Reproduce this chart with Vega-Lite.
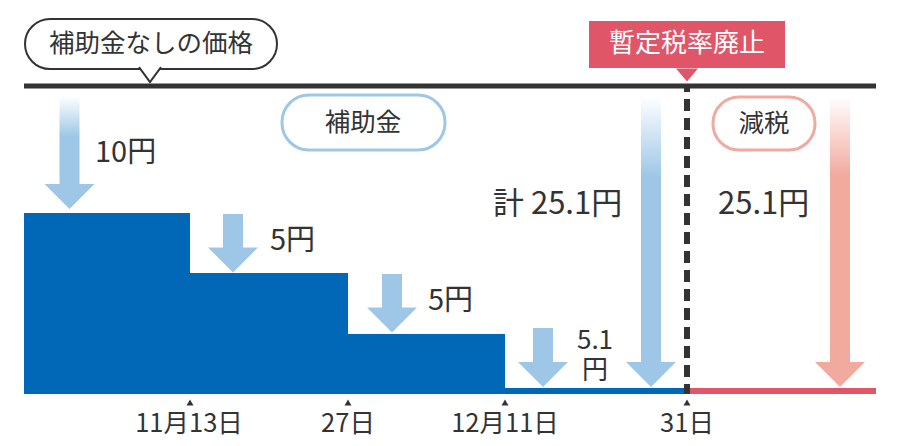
{
  "$schema": "https://vega.github.io/schema/vega-lite/v6.json",
  "width": 900,
  "height": 446,
  "autosize": {"type": "fit", "contains": "padding"},
  "padding": 0,
  "background": "#ffffff",
  "config": {"view": {"stroke": null}, "text": {"font": "Noto Sans CJK JP"}},
  "encoding": {
    "x": {"field": "x", "type": "quantitative", "scale": {"domain": [0, 900], "nice": false, "zero": false}, "axis": null},
    "y": {"field": "y", "type": "quantitative", "scale": {"domain": [0, 446], "nice": false, "zero": false, "reverse": true}, "axis": null}
  },
  "layer": [
    {
      "data": {"values": [
        {"period": "〜11月12日", "x": 24, "x2": 190, "y": 213, "y2": 394},
        {"period": "11月13日〜", "x": 190, "x2": 348, "y": 273, "y2": 394},
        {"period": "27日〜", "x": 348, "x2": 505, "y": 334, "y2": 394},
        {"period": "12月11日〜", "x": 505, "x2": 687, "y": 388, "y2": 394}
      ]},
      "mark": {"type": "rect", "color": "#0068b7"},
      "encoding": {"x2": {"field": "x2"}, "y2": {"field": "y2"}}
    },
    {
      "data": {"values": [{"period": "31日〜", "x": 687, "x2": 876, "y": 388, "y2": 394}]},
      "mark": {"type": "rect", "color": "#e05668"},
      "encoding": {"x2": {"field": "x2"}, "y2": {"field": "y2"}}
    },
    {
      "data": {"values": [
        {"step": "5円", "x": 223, "x2": 243, "y": 214, "y2": 250},
        {"step": "5円", "x": 382, "x2": 402, "y": 274, "y2": 310},
        {"step": "5.1円", "x": 533, "x2": 553, "y": 328, "y2": 364}
      ]},
      "mark": {"type": "rect", "color": "#9ec7e7"},
      "encoding": {"x2": {"field": "x2"}, "y2": {"field": "y2"}}
    },
    {
      "data": {"values": [{"step": "10円", "x": 59.5, "x2": 79.5, "y": 96, "y2": 186}]},
      "mark": {"type": "rect", "color": {"gradient": "linear", "x1": 0, "y1": 0, "x2": 0, "y2": 1, "stops": [{"offset": 0, "color": "#ffffff"}, {"offset": 0.45, "color": "#9ec7e7"}, {"offset": 1, "color": "#9ec7e7"}]}},
      "encoding": {"x2": {"field": "x2"}, "y2": {"field": "y2"}}
    },
    {
      "data": {"values": [{"step": "計25.1円", "x": 641, "x2": 661, "y": 96, "y2": 364}]},
      "mark": {"type": "rect", "color": {"gradient": "linear", "x1": 0, "y1": 0, "x2": 0, "y2": 1, "stops": [{"offset": 0, "color": "#ffffff"}, {"offset": 0.3, "color": "#9ec7e7"}, {"offset": 1, "color": "#9ec7e7"}]}},
      "encoding": {"x2": {"field": "x2"}, "y2": {"field": "y2"}}
    },
    {
      "data": {"values": [{"step": "減税25.1円", "x": 830, "x2": 850, "y": 96, "y2": 364}]},
      "mark": {"type": "rect", "color": {"gradient": "linear", "x1": 0, "y1": 0, "x2": 0, "y2": 1, "stops": [{"offset": 0, "color": "#ffffff"}, {"offset": 0.3, "color": "#f2a99e"}, {"offset": 1, "color": "#f2a99e"}]}},
      "encoding": {"x2": {"field": "x2"}, "y2": {"field": "y2"}}
    },
    {
      "data": {"values": [
        {"step": "10円", "x": 69.5, "y": 196.5},
        {"step": "5円", "x": 233, "y": 260},
        {"step": "5円", "x": 392, "y": 320},
        {"step": "5.1円", "x": 543, "y": 374.5},
        {"step": "計25.1円", "x": 651, "y": 374.5}
      ]},
      "mark": {"type": "point", "shape": "M-1,-0.5L1,-0.5L0,0.5Z", "size": 2500, "filled": true, "color": "#9ec7e7", "opacity": 1}
    },
    {
      "data": {"values": [{"step": "減税25.1円", "x": 840, "y": 374.5}]},
      "mark": {"type": "point", "shape": "M-1,-0.5L1,-0.5L0,0.5Z", "size": 2500, "filled": true, "color": "#f2a99e", "opacity": 1}
    },
    {
      "data": {"values": [{"event": "暫定税率廃止", "x": 687, "y": 86, "y2": 394}]},
      "mark": {"type": "rule", "color": "#333333", "strokeWidth": 6, "strokeDash": [12, 7], "strokeDashOffset": 6},
      "encoding": {"y2": {"field": "y2"}}
    },
    {
      "data": {"values": [{"label": "補助金なしの価格", "x": 24, "x2": 876, "y": 86}]},
      "mark": {"type": "rule", "color": "#333333", "strokeWidth": 5},
      "encoding": {"x2": {"field": "x2"}}
    },
    {
      "data": {"values": [{"label": "補助金なしの価格", "x": 25, "x2": 277, "y": 19, "y2": 69}]},
      "mark": {"type": "rect", "fill": "#ffffff", "stroke": "#333333", "strokeWidth": 2, "cornerRadius": 25},
      "encoding": {"x2": {"field": "x2"}, "y2": {"field": "y2"}}
    },
    {
      "data": {"values": [{"label": "補助金なしの価格", "x": 150, "y": 75.4}]},
      "mark": {"type": "point", "shape": "M-1,-0.75L0,0.6L1,-0.75", "size": 484, "filled": true, "fill": "#ffffff", "stroke": "#333333", "strokeWidth": 2, "opacity": 1, "fillOpacity": 1, "strokeOpacity": 1}
    },
    {
      "data": {"values": [{"label": "暫定税率廃止", "x": 589, "x2": 785, "y": 21, "y2": 68}]},
      "mark": {"type": "rect", "color": "#e05668"},
      "encoding": {"x2": {"field": "x2"}, "y2": {"field": "y2"}}
    },
    {
      "data": {"values": [{"label": "暫定税率廃止", "x": 687, "y": 75}]},
      "mark": {"type": "point", "shape": "M-1,-0.6L1,-0.6L0,0.6Z", "size": 484, "filled": true, "color": "#e05668", "opacity": 1}
    },
    {
      "data": {"values": [{"label": "補助金", "x": 282, "x2": 445, "y": 95, "y2": 150}]},
      "mark": {"type": "rect", "fill": "#ffffff", "stroke": "#9ec7e7", "strokeWidth": 3, "cornerRadius": 27},
      "encoding": {"x2": {"field": "x2"}, "y2": {"field": "y2"}}
    },
    {
      "data": {"values": [{"label": "減税", "x": 713, "x2": 815, "y": 97, "y2": 150}]},
      "mark": {"type": "rect", "fill": "#ffffff", "stroke": "#f0aaa0", "strokeWidth": 3, "cornerRadius": 26},
      "encoding": {"x2": {"field": "x2"}, "y2": {"field": "y2"}}
    },
    {
      "data": {"values": [
        {"date": "11月13日", "x": 190, "y": 402.5},
        {"date": "27日", "x": 348, "y": 402.5},
        {"date": "12月11日", "x": 505, "y": 402.5},
        {"date": "31日", "x": 687, "y": 402.5}
      ]},
      "mark": {"type": "point", "shape": "triangle-up", "size": 49, "filled": true, "color": "#333333", "opacity": 1}
    },
    {
      "data": {"values": [
        {"label": "11月13日", "x": 189, "y": 424},
        {"label": "27日", "x": 348, "y": 424},
        {"label": "12月11日", "x": 505, "y": 424},
        {"label": "31日", "x": 687, "y": 424}
      ]},
      "mark": {"type": "text", "fontSize": 25.5, "color": "#333333", "align": "center", "baseline": "middle"},
      "encoding": {"text": {"field": "label"}}
    },
    {
      "data": {"values": [
        {"label": "補助金なしの価格", "x": 151, "y": 44},
        {"label": "補助金", "x": 363, "y": 123},
        {"label": "減税", "x": 764, "y": 124}
      ]},
      "mark": {"type": "text", "fontSize": 25.5, "color": "#333333", "align": "center", "baseline": "middle"},
      "encoding": {"text": {"field": "label"}}
    },
    {
      "data": {"values": [{"label": "暫定税率廃止", "x": 687, "y": 44}]},
      "mark": {"type": "text", "fontSize": 26, "color": "#ffffff", "align": "center", "baseline": "middle"},
      "encoding": {"text": {"field": "label"}}
    },
    {
      "data": {"values": [
        {"label": "10円", "x": 95, "y": 153},
        {"label": "5円", "x": 270, "y": 241},
        {"label": "5円", "x": 428, "y": 301}
      ]},
      "mark": {"type": "text", "fontSize": 29, "color": "#333333", "align": "left", "baseline": "middle"},
      "encoding": {"text": {"field": "label"}}
    },
    {
      "data": {"values": [
        {"label": "5.1|円", "x": 595, "y": 341}
      ]},
      "mark": {"type": "text", "fontSize": 26, "lineHeight": 30, "lineBreak": "|", "color": "#333333", "align": "center", "baseline": "middle"},
      "encoding": {"text": {"field": "label"}}
    },
    {
      "data": {"values": [
        {"label": "計 25.1円", "x": 493, "y": 205},
        {"label": "25.1円", "x": 718, "y": 205}
      ]},
      "mark": {"type": "text", "fontSize": 31, "color": "#333333", "align": "left", "baseline": "middle"},
      "encoding": {"text": {"field": "label"}}
    }
  ]
}
